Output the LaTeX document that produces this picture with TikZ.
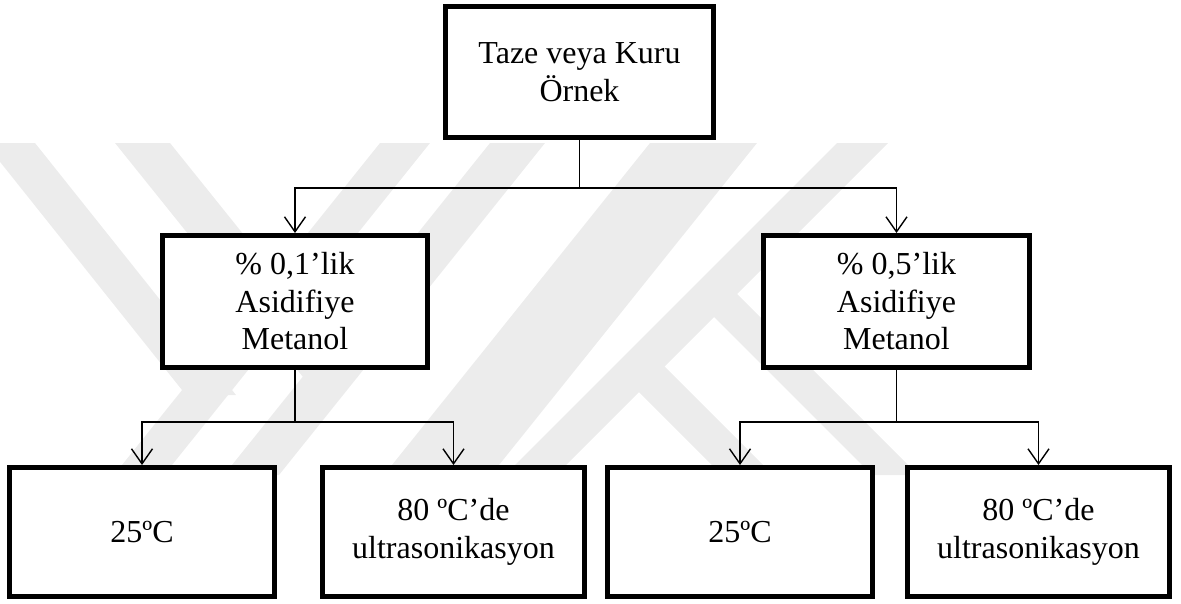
\documentclass[tikz,border=0pt]{standalone}
\usepackage{fontspec}
\setmainfont{Liberation Serif}
\usetikzlibrary{arrows.meta}

\definecolor{wmgray}{RGB}{236,236,236}

\tikzset{
  stepbox/.style={draw=black, line width=5pt, fill=white, align=center,
    inner sep=0pt, font=\fontsize{32}{37.5}\selectfont},
  link/.style={draw=black, line width=1.4pt},
  flow/.style={link, -{Straight Barb[length=15pt,width=21pt]}},
  band/.style={fill=wmgray, draw=none}
}

\begin{document}
\begin{tikzpicture}[x=1pt,y=-1pt]
\useasboundingbox (0,0) rectangle (1181,603);

% faint diagonal emblem in the background
% left part: two falling and two rising stripes
\fill[band] (-15,143) -- (35,143) -- (236,395) -- (186,395) -- cycle;
\fill[band] (115,143) -- (170,143) -- (358,377) -- (303,377) -- cycle;
\fill[band] (380,143) -- (430,143) -- (164,475) -- (114,475) -- cycle;
\fill[band] (490,143) -- (545,143) -- (279,475) -- (224,475) -- cycle;
% broad rising stripe
\fill[band] (650,143) -- (757,143) -- (491,475) -- (384,475) -- cycle;
% right part: rising stripe with two falling arms
\fill[band] (837,143) -- (888,143) -- (556,475) -- (505,475) -- cycle;
\fill[band] (627,380) -- (653,355) -- (773,475) -- (722,475) -- cycle;
\fill[band] (707,310) -- (728,285) -- (918,475) -- (872,475) -- cycle;

% boxes
\node[stepbox, minimum width=268pt, minimum height=131pt] (top) at (579.5,72)
  {Taze veya Kuru\\Örnek};
\node[stepbox, minimum width=265pt, minimum height=132pt] (ml) at (295,301.5)
  {\% 0,1’lik\\Asidifiye\\Metanol};
\node[stepbox, minimum width=266pt, minimum height=132pt] (mr) at (896.5,301.5)
  {\% 0,5’lik\\Asidifiye\\Metanol};
\node[stepbox, minimum width=265pt, minimum height=129pt] (a) at (142,532)
  {25ºC};
\node[stepbox, minimum width=262pt, minimum height=129pt] (b) at (453.5,532)
  {80 ºC’de\\ultrasonikasyon};
\node[stepbox, minimum width=265pt, minimum height=129pt] (c) at (740,532)
  {25ºC};
\node[stepbox, minimum width=262pt, minimum height=129pt] (d) at (1038.5,532)
  {80 ºC’de\\ultrasonikasyon};

% branching connectors
\coordinate (j0) at (top.south |- 0,188);
\coordinate (j1) at (ml.south |- 0,422);
\coordinate (j2) at (mr.south |- 0,422);

\draw[link] (top.south) -- (j0);
\draw[flow] (j0) -| (ml.north);
\draw[flow] (j0) -| (mr.north);

\draw[link] (ml.south) -- (j1);
\draw[flow] (j1) -| (a.north);
\draw[flow] (j1) -| (b.north);

\draw[link] (mr.south) -- (j2);
\draw[flow] (j2) -| (c.north);
\draw[flow] (j2) -| (d.north);
\end{tikzpicture}
\end{document}
